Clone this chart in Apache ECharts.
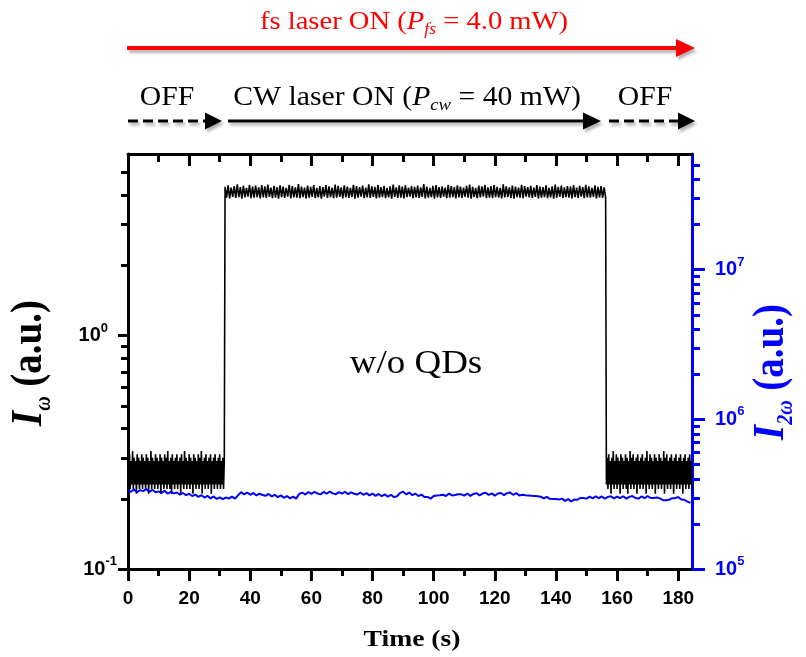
<!DOCTYPE html>
<html><head><meta charset="utf-8">
<script src="https://cdn.jsdelivr.net/npm/echarts@6/dist/echarts.min.js"></script>
<style>html,body{margin:0;padding:0;background:#fff}#c{width:806px;height:657px}</style>
</head><body><div id="c"></div>
<script>
// ---------- DATA ----------
// I_omega (left axis), three acquisition segments: time = start + i*step (s)
const off1Start = 0, off1Step = 0.25;
const off1Values = [
0.30,0.23,0.31,0.22,0.29,0.23,0.32,0.22,0.30,0.23,0.29,0.21,0.31,0.23,0.30,0.22,0.29,0.23,0.31,0.22,
0.30,0.23,0.29,0.22,0.31,0.23,0.30,0.21,0.29,0.23,0.32,0.22,0.30,0.23,0.29,0.22,0.31,0.23,0.30,0.22,
0.29,0.23,0.31,0.21,0.30,0.23,0.29,0.22,0.31,0.23,0.30,0.22,0.32,0.23,0.29,0.22,0.30,0.21,0.31,0.23,
0.29,0.22,0.30,0.23,0.31,0.22,0.29,0.23,0.30,0.21,0.31,0.23,0.29,0.22,0.32,0.23,0.30,0.22,0.29,0.23,
0.31,0.22,0.30,0.23,0.29,0.21,0.31,0.23,0.30,0.22,0.29,0.23,0.31,0.22,0.30,0.23,0.32,0.21,0.29,0.23,
0.30,0.22,0.31,0.23,0.29,0.22,0.30,0.23,0.31,0.21,0.29,0.23,0.30,0.22,0.31,0.23,0.29,0.22,0.30,0.23,
0.31,0.22,0.29,0.23,0.30,0.22,0.29];
const onStart = 31.75, onStep = 0.5;
const onValues = [
4.34,3.90,4.40,3.87,4.31,3.93,4.37,3.89,4.45,3.92,4.33,3.86,4.38,3.91,4.30,3.94,4.42,3.88,4.35,3.90,4.39,3.92,4.32,3.87,4.41,
3.91,4.36,3.89,4.44,3.93,4.31,3.88,4.38,3.90,4.33,3.86,4.40,3.92,4.35,3.89,4.30,3.94,4.43,3.87,4.37,3.91,4.32,3.90,4.46,3.88,
4.35,3.92,4.31,3.87,4.39,3.90,4.34,3.93,4.42,3.88,4.30,3.91,4.37,3.86,4.33,3.94,4.41,3.89,4.36,3.92,4.31,3.88,4.44,3.90,4.38,
3.93,4.32,3.87,4.40,3.91,4.35,3.89,4.30,3.92,4.43,3.86,4.37,3.90,4.33,3.94,4.39,3.88,4.31,3.91,4.45,3.89,4.36,3.93,4.34,3.87,
4.41,3.90,4.33,3.92,4.38,3.88,4.30,3.91,4.36,3.86,4.44,3.93,4.32,3.89,4.40,3.90,4.35,3.87,4.42,3.92,4.31,3.94,4.37,3.88,4.34,
3.91,4.39,3.89,4.32,3.93,4.46,3.87,4.35,3.90,4.30,3.92,4.38,3.86,4.41,3.91,4.33,3.89,4.36,3.94,4.31,3.88,4.43,3.90,4.37,3.92,
4.33,3.87,4.40,3.91,4.35,3.89,4.31,3.93,4.38,3.90,4.44,3.86,4.34,3.92,4.30,3.88,4.39,3.91,4.36,3.94,4.42,3.89,4.32,3.90,4.37,
3.88,4.41,3.92,4.34,3.90,4.30,3.87,4.45,3.91,4.36,3.93,4.32,3.89,4.39,3.86,4.35,3.92,4.31,3.90,4.43,3.88,4.37,3.94,4.33,3.91,
4.38,3.89,4.31,3.93,4.42,3.87,4.35,3.90,4.33,3.92,4.40,3.88,4.30,3.91,4.36,3.86,4.44,3.90,4.34,3.93,4.39,3.89,4.32,3.92,4.37,
3.90,4.35,3.87,4.41,3.92,4.31,3.89,4.38,3.94,4.33,3.88,4.43,3.91,4.36,3.90,4.30,3.93,4.40,3.87,4.34,3.91,4.37,3.89,4.32,3.90];
const off2Start = 156.5, off2Step = 0.25;
const off2Values = [
0.23,0.30,0.22,0.31,0.23,0.29,0.21,0.30,0.23,0.32,0.22,0.29,0.23,0.31,0.22,0.30,0.23,0.29,0.21,0.31,
0.23,0.30,0.22,0.29,0.23,0.31,0.22,0.30,0.21,0.29,0.23,0.32,0.22,0.30,0.23,0.31,0.22,0.29,0.23,0.30,
0.21,0.31,0.23,0.29,0.22,0.30,0.23,0.31,0.22,0.29,0.23,0.30,0.21,0.32,0.23,0.29,0.22,0.31,0.23,0.30,
0.22,0.29,0.23,0.31,0.21,0.30,0.23,0.29,0.22,0.31,0.23,0.30,0.22,0.29,0.23,0.32,0.21,0.30,0.23,0.31,
0.22,0.29,0.23,0.30,0.22,0.31,0.23,0.29,0.21,0.30,0.23,0.31,0.22,0.29,0.23,0.30,0.22,0.31,0.23,0.29,
0.21,0.30,0.23,0.31,0.22,0.29,0.23,0.30,0.22,0.31,0.23,0.29,0.22];
// I_2omega (right axis), one sample per second from t = 0
const blueStart = 0, blueStep = 1;
const blueValues = [
3.35e5,3.28e5,3.40e5,3.26e5,3.36e5,3.31e5,3.42e5,3.27e5,3.38e5,3.25e5,
3.30e5,3.22e5,3.33e5,3.18e5,3.27e5,3.20e5,3.24e5,3.14e5,3.22e5,3.11e5,
3.18e5,3.07e5,3.14e5,3.03e5,3.11e5,3.00e5,3.08e5,2.96e5,3.05e5,2.94e5,
3.01e5,2.93e5,3.00e5,2.95e5,3.04e5,2.95e5,3.10e5,3.26e5,3.15e5,3.24e5,
3.13e5,3.22e5,3.10e5,3.19e5,3.12e5,3.08e5,3.17e5,3.05e5,3.13e5,3.02e5,
3.10e5,2.99e5,3.07e5,2.96e5,3.04e5,2.95e5,3.17e5,3.24e5,3.14e5,3.26e5,
3.17e5,3.28e5,3.19e5,3.15e5,3.27e5,3.18e5,3.29e5,3.20e5,3.16e5,3.26e5,
3.19e5,3.28e5,3.16e5,3.25e5,3.18e5,3.14e5,3.24e5,3.13e5,3.21e5,3.10e5,
3.19e5,3.08e5,3.17e5,3.06e5,3.15e5,3.04e5,3.13e5,3.02e5,3.06e5,3.22e5,
3.28e5,3.15e5,3.24e5,3.11e5,3.19e5,3.07e5,3.14e5,3.02e5,3.03e5,2.95e5,
3.07e5,3.10e5,3.11e5,3.13e5,3.07e5,3.19e5,3.10e5,3.12e5,3.16e5,3.15e5,
3.09e5,3.19e5,3.08e5,3.17e5,3.21e5,3.10e5,3.19e5,3.23e5,3.12e5,3.20e5,
3.09e5,3.19e5,3.22e5,3.11e5,3.21e5,3.24e5,3.13e5,3.21e5,3.10e5,3.13e5,
3.11e5,3.10e5,3.08e5,3.07e5,3.06e5,3.04e5,2.96e5,3.03e5,2.94e5,2.93e5,
2.93e5,2.91e5,2.95e5,2.85e5,2.93e5,2.83e5,2.91e5,2.90e5,2.98e5,2.98e5,
2.95e5,3.04e5,2.96e5,3.06e5,2.97e5,3.05e5,2.95e5,3.03e5,3.06e5,2.96e5,
3.04e5,2.97e5,3.06e5,2.95e5,3.03e5,3.07e5,2.98e5,2.95e5,3.05e5,2.97e5,
3.07e5,2.98e5,2.98e5,3.00e5,2.96e5,2.88e5,2.88e5,2.90e5,2.97e5,2.97e5,
3.03e5,2.91e5,2.90e5,2.82e5,2.76e5];
// Axes
const xMin = 0, xMax = 184.5;
const xTickValues = [0,20,40,60,80,100,120,140,160,180];
const leftMin = 0.1, leftMax = 6;
const leftMajor = [0.1, 1];
const leftMinor = [0.2,0.3,0.4,0.5,0.6,0.7,0.8,0.9,2,3,4,5];
const rightMin = 1e5, rightMax = 5.9e7;
const rightMajor = [1e5, 1e6, 1e7];
const rightMinor = [2e5,3e5,4e5,5e5,6e5,7e5,8e5,9e5,2e6,3e6,4e6,5e6,6e6,7e6,8e6,9e6,2e7,3e7,4e7,5e7];

// ---------- BUILD ----------
const black = [];
off1Values.forEach((v,i)=>black.push([off1Start+i*off1Step, v]));
onValues.forEach((v,i)=>black.push([onStart+i*onStep, v]));
off2Values.forEach((v,i)=>black.push([off2Start+i*off2Step, v]));
const blue = blueValues.map((v,i)=>[blueStart+i*blueStep, v]);

const SANS = 'Liberation Sans', SERIF = 'Liberation Serif';
const BLUE = '#0000ff', RED = '#ff0000';
const GRID = {left:128,right:114,top:154,bottom:88};
const W = 806, H = 657;

function powLabel(v){
  const e = Math.round(Math.log10(v));
  return e === 0 ? '{b|10}{s0|0}' : '{b|10}{s|' + e + '}';
}
function labelRich(color){
  return {
    b:{fontFamily:SANS,fontWeight:'bold',fontSize:20,lineHeight:28,color:color,verticalAlign:'middle'},
    s:{fontFamily:SANS,fontWeight:'bold',fontSize:13,lineHeight:13,color:color,verticalAlign:'top'},
    s0:{fontFamily:SANS,fontWeight:'bold',fontSize:13,lineHeight:13,color:color,verticalAlign:'top',padding:[0,9,0,0]}
  };
}
const tickStyle = c => ({color:c,width:3});

const chart = echarts.init(document.getElementById('c'));
const shadow = {shadowBlur:3,shadowOffsetX:2,shadowOffsetY:3,shadowColor:'rgba(0,0,0,0.3)'};

function arrow(x1,x2,y,color,w,dash,headLen,headHalf){
  return [
    {type:'line',shape:{x1:x1,y1:y,x2:x2-headLen+2,y2:y},style:Object.assign({stroke:color,lineWidth:w,lineDash:dash||null},shadow)},
    {type:'polygon',shape:{points:[[x2-headLen,y-headHalf],[x2,y],[x2-headLen,y+headHalf]]},style:Object.assign({fill:color},shadow)}
  ];
}

const graphics = [].concat(
  arrow(127,695,48,RED,4,null,19,9),
  arrow(128,222,121,'#000',3,[10,5],17,8.5),
  arrow(228,601,121,'#000',3,null,18,8.5),
  arrow(609,695,121,'#000',3,[10,5],17,8.5),
  [
    {type:'text',x:414,y:22,scaleX:1.1,z:10,style:{
      text:'{a|fs laser ON (}{i|P}{s|fs}{a| = 4.0 mW)}',align:'center',verticalAlign:'middle',
      rich:{a:{fontFamily:SERIF,fontSize:26,lineHeight:32,fill:RED},
            i:{fontFamily:SERIF,fontStyle:'italic',fontSize:26,lineHeight:32,fill:RED},
            s:{fontFamily:SERIF,fontStyle:'italic',fontSize:16,lineHeight:16,fill:RED,verticalAlign:'bottom'}}}},
    {type:'text',x:167,y:98,scaleX:1.1,z:10,style:{text:'OFF',align:'center',verticalAlign:'middle',
      fontFamily:SERIF,fontSize:27,fill:'#000'}},
    {type:'text',x:407,y:98,scaleX:1.1,z:10,style:{
      text:'{a|CW laser ON (}{i|P}{s|cw}{a| = 40 mW)}',align:'center',verticalAlign:'middle',
      rich:{a:{fontFamily:SERIF,fontSize:27,lineHeight:32,fill:'#000'},
            i:{fontFamily:SERIF,fontStyle:'italic',fontSize:27,lineHeight:32,fill:'#000'},
            s:{fontFamily:SERIF,fontStyle:'italic',fontSize:17,lineHeight:16,fill:'#000',verticalAlign:'bottom'}}}},
    {type:'text',x:645,y:98,scaleX:1.1,z:10,style:{text:'OFF',align:'center',verticalAlign:'middle',
      fontFamily:SERIF,fontSize:27,fill:'#000'}},
    {type:'text',x:416,y:364,scaleX:1.12,z:10,style:{text:'w/o QDs',align:'center',verticalAlign:'middle',
      fontFamily:SERIF,fontSize:33,fill:'#000'}},
    {type:'text',x:412,y:640,scaleX:1.15,z:10,style:{text:'Time (s)',align:'center',verticalAlign:'middle',
      fontFamily:SERIF,fontWeight:'bold',fontSize:24,fill:'#000'}},
    {type:'text',x:30,y:363,rotation:Math.PI/2,scaleY:1.12,z:10,style:{
      text:'{i|I}{w|ω}{n| (a.u.)}',align:'center',verticalAlign:'middle',
      rich:{i:{fontFamily:SERIF,fontStyle:'italic',fontWeight:'bold',fontSize:39,lineHeight:46,fill:'#000'},
            w:{fontFamily:SERIF,fontStyle:'italic',fontWeight:'bold',fontSize:20,lineHeight:20,fill:'#000',verticalAlign:'bottom'},
            n:{fontFamily:SERIF,fontWeight:'bold',fontSize:39,lineHeight:46,fill:'#000'}}}},
    {type:'text',x:772,y:372,rotation:Math.PI/2,scaleY:1.12,z:10,style:{
      text:'{i|I}{w|2ω}{n| (a.u.)}',align:'center',verticalAlign:'middle',
      rich:{i:{fontFamily:SERIF,fontStyle:'italic',fontWeight:'bold',fontSize:39,lineHeight:46,fill:BLUE},
            w:{fontFamily:SERIF,fontStyle:'italic',fontWeight:'bold',fontSize:20,lineHeight:20,fill:BLUE,verticalAlign:'bottom'},
            n:{fontFamily:SERIF,fontWeight:'bold',fontSize:39,lineHeight:46,fill:BLUE}}}}
  ]
);

const option = {
  animation:false,
  backgroundColor:'#ffffff',
  grid:GRID,
  xAxis:[
    {type:'value',position:'bottom',min:xMin,max:xMax,interval:20,
     axisLine:{show:true,onZero:false,lineStyle:{color:'#000',width:3}},
     axisTick:{show:true,inside:false,length:12,lineStyle:tickStyle('#000'),customValues:xTickValues},
     minorTick:{show:true,splitNumber:2,length:7,lineStyle:tickStyle('#000')},
     axisLabel:{customValues:xTickValues,margin:20,color:'#000',fontFamily:SANS,fontWeight:'bold',fontSize:19},
     splitLine:{show:false},minorSplitLine:{show:false}},
    {type:'value',position:'top',min:xMin,max:xMax,interval:20,
     axisLine:{show:true,onZero:false,lineStyle:{color:'#000',width:3}},
     axisTick:{show:true,inside:true,length:12,lineStyle:tickStyle('#000'),customValues:xTickValues},
     minorTick:{show:true,splitNumber:2,length:8,lineStyle:tickStyle('#000')},
     axisLabel:{show:false},splitLine:{show:false}}
  ],
  yAxis:[
    {type:'log',logBase:10,position:'left',min:leftMin,max:leftMax,
     axisLine:{show:true,onZero:false,lineStyle:{color:'#000',width:3}},
     axisTick:{show:true,inside:false,length:10,lineStyle:tickStyle('#000'),customValues:leftMajor},
     axisLabel:{customValues:leftMajor,margin:11,formatter:powLabel,rich:labelRich('#000')},
     splitLine:{show:false}},
    {type:'log',logBase:10,position:'right',min:rightMin,max:rightMax,
     axisLine:{show:true,onZero:false,lineStyle:{color:BLUE,width:3}},
     axisTick:{show:true,inside:false,length:13,lineStyle:tickStyle(BLUE),customValues:rightMajor},
     axisLabel:{customValues:rightMajor,margin:23,formatter:powLabel,rich:labelRich(BLUE)},
     splitLine:{show:false}}
  ],
  series:[
    {type:'line',name:'I_w',xAxisIndex:0,yAxisIndex:0,data:black,showSymbol:false,symbol:'none',
     lineStyle:{color:'#000',width:1.6},z:3},
    {type:'line',name:'I_2w',xAxisIndex:0,yAxisIndex:1,data:blue,showSymbol:false,symbol:'none',
     lineStyle:{color:BLUE,width:2},z:4}
  ],
  graphic:graphics
};
chart.setOption(option);

// minor ticks of the two logarithmic axes, placed through the axes' own scales
const xl = GRID.left, xr = W - GRID.right;
const minorGraphics = [];
leftMinor.forEach(v=>{
  const y = Math.round(chart.convertToPixel({yAxisIndex:0}, v)) + 0.5;
  minorGraphics.push({type:'rect',z:20,shape:{x:xl-7,y:y-1.5,width:7,height:3},style:{fill:'#000'}});
});
rightMinor.forEach(v=>{
  const y = Math.round(chart.convertToPixel({yAxisIndex:1}, v)) + 0.5;
  minorGraphics.push({type:'rect',z:20,shape:{x:xr,y:y-1.5,width:8,height:3},style:{fill:BLUE}});
});
chart.setOption({graphic:graphics.concat(minorGraphics)});
</script></body></html>
